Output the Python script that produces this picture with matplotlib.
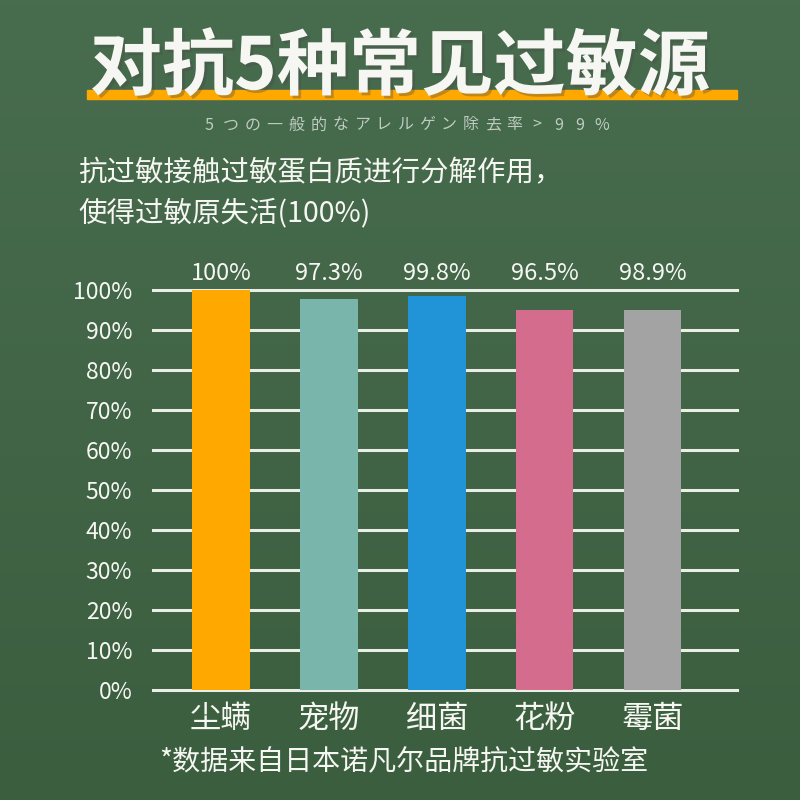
#%%############################################################################
# Bar chart: removal rate of 5 common allergens (green chalkboard style)
###############################################################################
import matplotlib.pyplot as plt
import matplotlib.patheffects as pe
import numpy as np

#%%############################################################################
# Data
###############################################################################
categories = ['尘螨', '宠物', '细菌', '花粉', '霉菌']
barHeights = [100, 97.8, 98.5, 95.0, 95.0]          # drawn heights (%)
valueLabels = ['100%', '97.3%', '99.8%', '96.5%', '98.9%']
barColors = ['#ffa800', '#7ab5ab', '#2194d8', '#d46c8e', '#a3a3a3']
yTicks = [0, 10, 20, 30, 40, 50, 60, 70, 80, 90, 100]

titleText = '对抗5种常见过敏源'
subText = '5つの一般的なアレルゲン除去率>99%'
descLines = ['抗过敏接触过敏蛋白质进行分解作用，', '使得过敏原失活(100%)']
footText = '*数据来自日本诺凡尔品牌抗过敏实验室'

cn = ['Noto Sans CJK SC', 'DejaVu Sans']
jp = ['Noto Sans CJK JP', 'DejaVu Sans']
white = '#f6f6f2'

#%%############################################################################
# Figure and background
###############################################################################
fig = plt.figure(figsize=(8, 8), dpi=100)
bg = fig.add_axes([0, 0, 1, 1])
grad = np.linspace(0, 1, 256).reshape(-1, 1)
top = np.array([0x48, 0x6c, 0x4e]) / 255
bot = np.array([0x3a, 0x5e, 0x3e]) / 255
img = top + (bot - top) * grad[..., None]
bg.imshow(img, aspect='auto', extent=[0, 1, 0, 1])
bg.set_xlim(0, 1)
bg.set_ylim(0, 1)
bg.axis('off')

# title with orange underline
bg.add_patch(plt.Rectangle((87 / 800, 1 - 99 / 800), 650 / 800, 9 / 800,
                           color='#ffa800', zorder=2))
bg.text(0.5, 1 - 68 / 800, titleText, family=cn, fontsize=52, weight='black',
        color=white, ha='center', va='center', zorder=3,
        path_effects=[pe.withSimplePatchShadow(offset=(2, -2), alpha=0.35)])

# subtitle with wide letter spacing
x0, x1 = 209 / 800, 602 / 800
for i, ch in enumerate(subText):
    bg.text(x0 + (x1 - x0) * i / (len(subText) - 1), 1 - 125 / 800, ch,
            family=jp, fontsize=11.5, color='#bfcbc0', ha='center', va='center')

for i, line in enumerate(descLines):
    bg.text(78 / 800, 1 - (173 + 40 * i) / 800, line, family=cn, fontsize=20.5,
            color=white, ha='left', va='center')

bg.text(159 / 800, 1 - 762 / 800, footText, family=cn, fontsize=20.2,
        color=white, ha='left', va='center')

#%%############################################################################
# Bar chart
###############################################################################
ax = fig.add_axes([153 / 800, 110 / 800, 584 / 800, 400 / 800])
ax.patch.set_alpha(0)
x = np.arange(len(categories))
for t in yTicks:
    ax.axhline(t, color='#e9eee6', lw=2.2, zorder=1, clip_on=False)
ax.bar(x, barHeights, width=0.53, color=barColors, zorder=2)
for xi, lab in zip(x, valueLabels):
    ax.text(xi, 104, lab, family=cn, fontsize=17, color=white,
            ha='center', va='center')
ax.set_xlim(-0.63, 4.78)
ax.set_ylim(0, 100)
ax.set_yticks(yTicks)
ax.set_yticklabels([f'{t}%' for t in yTicks], family=cn, fontsize=16.5, color=white)
ax.set_xticks(x)
ax.set_xticklabels(categories, family=cn, fontsize=22.5, color=white)
ax.tick_params(length=0)
ax.tick_params(axis='y', pad=15)
ax.tick_params(axis='x', pad=9)
for s in ax.spines.values():
    s.set_visible(False)

fig.savefig('out.png', dpi=100)
